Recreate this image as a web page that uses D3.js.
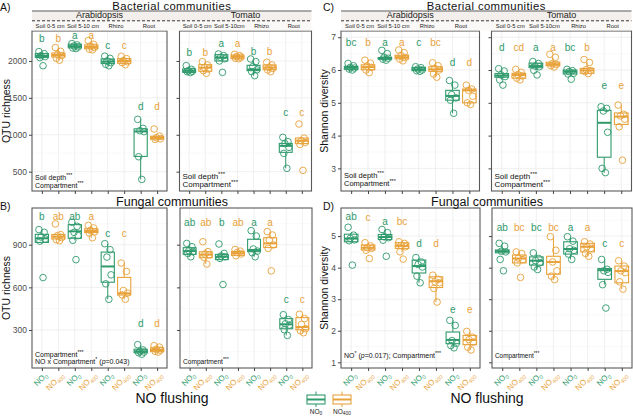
<!DOCTYPE html>
<html><head><meta charset="utf-8">
<script src="https://cdn.jsdelivr.net/npm/d3@7"></script>
<style>
body{margin:0;background:#fff}
svg{display:block}
text{font-family:"Liberation Sans",Arial,sans-serif}
</style>
</head><body>
<svg id="chart" width="633" height="417"></svg>
<script>
// ---------------- DATA ----------------
const compartmentsArab = ["Soil 0-5 cm","Soil 5-10 cm","Rhizo","Root"];
const compartmentsTom  = ["Soil 0-5 cm","Soil 5-10cm","Rhizo","Root"];
const treatments = ["NO0","NO400"];
const treatmentSub = ["0","400"];
const otuBacTicks = [500,1000,1500,2000];
const shanBacTicks = [3,4,5,6,7];
const otuFunTicks = [300,600,900];
const shanFunTicks = [1,2,3,4,5];

// Bacterial OTU richness - Arabidopsis (groups: S0-5 NO0, S0-5 NO400, S5-10 NO0, S5-10 NO400, Rhizo NO0, Rhizo NO400, Root NO0, Root NO400)
const bacOtuArabPts = [
 [2127,2099,2072,2060,2045,1935],
 [2181,2130,2090,2072,2036,2010],
 [2235,2218,2203,2190,2175,2168],
 [2276,2226,2203,2185,2160,2150],
 [2065,2036,2000,1977,1955,1935],
 [2063,2032,2005,1990,1977,1950],
 [1209,1087,1055,1042,702,395],
 [1078,983,960,945,937]
];
const bacOtuArabBox = [
 [2045,2048,2068,2100,2127],[2010,2054,2081,2108,2181],[2168,2178,2199,2228,2235],[2150,2165,2190,2218,2276],
 [1935,1964,1991,2027,2065],[1950,1968,2000,2032,2063],[395,707,1045,1080,1209],[937,940,958,980,983]
];
const bacOtuArabLetters = ["b","b","a","a","c","c","d","d"];
const bacOtuArabLetterAt = [2306,2306,2350,2350,2207,2207,1385,1385];

// Bacterial OTU richness - Tomato
const bacOtuTomPts = [
 [1937,1887,1869,1860,1855,1842],
 [1991,1946,1910,1890,1869,1833],
 [2095,2072,2050,2030,2000,1846],
 [2090,2072,2060,2050,2036,2030],
 [2027,1991,1923,1880,1855,1801],
 [1982,1946,1914,1900,1878,1855],
 [965,906,880,829,748,545],
 [1146,955,922,895,868,517]
];
const bacOtuTomBox = [
 [1842,1845,1866,1893,1937],[1833,1860,1908,1950,1991],[1995,2000,2045,2085,2095],[2023,2030,2058,2080,2090],
 [1801,1869,1885,1941,2027],[1855,1882,1910,1946,1982],[545,762,850,883,965],[868,880,920,955,960]
];
const bacOtuTomLetters = ["b","b","a","a","b","b","c","c"];
const bacOtuTomLetterAt = [2118,2118,2239,2239,2126,2126,1301,1301];

// Bacterial Shannon - Arabidopsis
const bacShanArabPts = [
 [6.20,6.13,6.08,6.06,6.03,6.00],
 [6.30,6.21,6.12,6.08,6.00,5.92],
 [6.60,6.50,6.39,6.36,6.33,6.30],
 [6.61,6.53,6.44,6.38,6.33,6.28],
 [6.10,6.07,6.03,6.00,5.98,5.96],
 [6.22,6.13,6.05,6.00,5.88,5.78],
 [5.68,5.54,5.25,5.15,5.08,4.68],
 [5.54,5.42,5.38,5.20,5.00,4.95]
];
const bacShanArabBox = [
 [6.00,6.02,6.07,6.11,6.20],[5.92,6.01,6.09,6.16,6.30],[6.30,6.33,6.35,6.38,6.45],[6.28,6.34,6.39,6.45,6.61],
 [5.96,5.98,6.02,6.08,6.10],[5.78,5.96,6.02,6.10,6.22],[4.68,5.08,5.21,5.38,5.68],[4.95,5.00,5.38,5.42,5.54]
];
const bacShanArabLetters = ["bc","b","a","a","c","bc","d","d"];
const bacShanArabLetterAt = [6.84,6.84,6.84,6.84,6.84,6.84,6.22,6.22];

// Bacterial Shannon - Tomato
const bacShanTomPts = [
 [6.04,5.97,5.85,5.80,5.70,5.54],
 [6.02,5.93,5.86,5.82,5.75,5.70],
 [6.26,6.20,6.12,6.10,5.99,5.85],
 [6.48,6.39,6.19,6.17,6.13,6.09],
 [6.02,5.98,5.95,5.90,5.88,5.72],
 [6.32,6.23,6.01,5.98,5.95,5.89],
 [4.88,4.83,4.75,4.10,3.00,2.87],
 [4.93,4.65,4.60,4.50,4.27,3.25]
];
const bacShanTomBox = [
 [5.70,5.78,5.83,5.89,6.04],[5.70,5.75,5.85,5.90,6.02],[5.99,6.07,6.12,6.21,6.26],[6.09,6.13,6.18,6.24,6.39],
 [5.88,5.88,5.95,6.00,6.02],[5.89,5.90,5.99,6.05,6.23],[2.87,3.34,4.39,4.77,4.88],[4.27,4.34,4.58,4.69,4.93]
];
const bacShanTomLetters = ["d","cd","a","a","bc","b","e","e"];
const bacShanTomLetterAt = [6.70,6.70,6.70,6.70,6.70,6.70,5.52,5.52];

// Fungal OTU richness - Arabidopsis
const funOtuArabPts = [
 [1006,987,954,940,925,669],
 [1046,971,964,950,935,928],
 [1058,1029,987,964,931,795],
 [1036,1018,1001,990,982,949],
 [907,865,813,688,625,516],
 [771,712,578,560,547,516],
 [197,160,150,145,140,130],
 [190,180,165,158,150,145]
];
const funOtuArabBox = [
 [910,916,945,973,1006],[928,940,957,972,975],[931,945,994,1041,1058],[949,985,996,1012,1036],
 [516,636,747,848,907],[516,546,558,670,771],[130,140,150,165,197],[145,148,160,175,190]
];
const funOtuArabLetters = ["b","ab","ab","a","c","c","d","d"];
const funOtuArabLetterAt = [1097,1097,1097,1097,977,977,344,344];

// Fungal OTU richness - Tomato
const funOtuTomPts = [
 [909,886,858,850,839,815],
 [921,851,835,828,811,764],
 [905,839,820,815,804,620],
 [867,855,845,835,822],
 [999,961,870,855,844,815],
 [992,968,933,898,874,716],
 [408,373,344,335,302,262],
 [411,380,340,309,295,281]
];
const funOtuTomBox = [
 [815,832,855,879,909],[764,808,830,850,870],[790,795,815,832,850],[822,825,840,852,867],
 [815,851,862,938,999],[874,881,909,949,992],[262,309,340,380,408],[281,302,321,387,411]
];
const funOtuTomLetters = ["ab","ab","b","ab","a","a","c","c"];
const funOtuTomLetterAt = [1053,1053,1053,1053,1053,1053,516,516];

// Fungal Shannon - Arabidopsis
const funShanArabPts = [
 [5.28,5.03,4.93,4.88,4.85,4.08],
 [4.79,4.69,4.63,4.61,4.55,4.29],
 [5.21,5.11,4.98,4.95,4.87,4.36],
 [4.82,4.77,4.70,4.66,4.50,4.27],
 [4.32,4.18,4.10,4.02,3.73,3.52],
 [3.76,3.63,3.55,3.52,3.34,2.91],
 [2.33,2.17,1.69,1.60,1.53,1.46],
 [1.98,1.80,1.72,1.64,1.48,1.39]
];
const funShanArabBox = [
 [4.79,4.82,4.92,5.06,5.10],[4.55,4.56,4.63,4.72,4.79],[4.87,4.89,4.97,5.05,5.21],[4.50,4.61,4.69,4.79,4.82],
 [3.52,3.83,4.05,4.24,4.32],[2.91,3.37,3.57,3.71,3.79],[1.46,1.59,1.71,1.96,2.33],[1.39,1.56,1.71,1.85,1.98]
];
const funShanArabLetters = ["ab","c","a","bc","d","d","e","e"];
const funShanArabLetterAt = [5.63,5.60,5.47,5.47,4.77,4.77,2.67,2.67];

// Fungal Shannon - Tomato
const funShanTomPts = [
 [4.77,4.68,4.52,4.50,4.26,3.90],
 [4.50,4.45,4.30,4.25,4.15,3.69],
 [4.47,4.29,4.22,4.15,4.02,3.94],
 [4.98,4.55,4.18,3.90,3.73,3.62],
 [4.98,4.84,4.60,4.55,4.43,4.26],
 [4.82,4.75,4.66,4.61,4.45,4.36],
 [4.26,3.95,3.90,3.85,3.46,2.72],
 [4.22,4.05,3.90,3.84,3.55,3.32]
];
const funShanTomBox = [
 [4.45,4.47,4.52,4.56,4.70],[4.13,4.15,4.29,4.40,4.50],[3.94,4.08,4.22,4.34,4.47],[3.62,3.79,4.18,4.36,4.98],
 [4.26,4.43,4.59,4.82,4.98],[4.36,4.50,4.66,4.77,4.82],[3.46,3.63,3.92,3.97,4.26],[3.32,3.52,3.89,4.05,4.22]
];
const funShanTomLetters = ["ab","bc","bc","bc","a","a","c","c"];
const funShanTomLetterAt = [5.28,5.28,5.28,5.28,5.28,5.28,4.75,4.75];

// ---------------- DRAWING ----------------
const GREEN = "#2f9a6c", ORANGE = "#e8a23a";
const colorOf = i => (i % 2 === 0 ? GREEN : ORANGE);
const jitter = [-0.18, 0.14, -0.05, 0.2, -0.12, 0.07, 0.0];
const svg = d3.select("#chart");
const FONT = '"Liberation Sans",Arial,sans-serif';

function richText(sel, parts, size) {
  let shift = 0;
  parts.forEach(p => {
    const t = sel.append("tspan").text(p.t);
    if (p.sup) { t.attr("dy", -2.6 - shift).attr("font-size", size * 0.75); shift = -2.6; }
    else { if (shift !== 0) { t.attr("dy", -shift); shift = 0; } }
    if (p.it) t.attr("font-style", "italic");
  });
}

function panel(c) {
  const x = d3.scalePoint().domain(d3.range(8)).range([c.x0, c.x1]).padding(0.6);
  const y = d3.scaleLinear().domain(c.dom).range([c.y1, c.y0]);
  const step = x.step();
  const g = svg.append("g");
  // minor + major grid
  const minor = [];
  for (let i = 0; i < c.ticks.length - 1; i++) minor.push((c.ticks[i] + c.ticks[i+1]) / 2);
  minor.push(c.ticks[0] - (c.ticks[1]-c.ticks[0])/2);
  minor.push(c.ticks[c.ticks.length-1] + (c.ticks[1]-c.ticks[0])/2);
  g.selectAll(".mn").data(minor.filter(v => v > c.dom[0] && v < c.dom[1])).join("line")
    .attr("x1", c.x0).attr("x2", c.x1).attr("y1", d => y(d)).attr("y2", d => y(d))
    .attr("stroke", "#f3f3f3").attr("stroke-width", 0.5);
  g.selectAll(".mj").data(c.ticks).join("line")
    .attr("x1", c.x0).attr("x2", c.x1).attr("y1", d => y(d)).attr("y2", d => y(d))
    .attr("stroke", "#e9e9e9").attr("stroke-width", 0.7);
  g.selectAll(".vx").data(d3.range(8)).join("line")
    .attr("x1", d => x(d)).attr("x2", d => x(d)).attr("y1", c.y0).attr("y2", c.y1)
    .attr("stroke", "#e9e9e9").attr("stroke-width", 0.7);

  // boxes
  const hw = step * 0.4;
  c.box.forEach((b, i) => {
    const cx = x(i), col = colorOf(i);
    const bg = g.append("g").attr("stroke", col).attr("fill", "none");
    bg.append("line").attr("x1", cx).attr("x2", cx).attr("y1", y(b[3])).attr("y2", y(b[4])).attr("stroke-width", 1);
    bg.append("line").attr("x1", cx).attr("x2", cx).attr("y1", y(b[1])).attr("y2", y(b[0])).attr("stroke-width", 1);
    bg.append("rect").attr("x", cx - hw).attr("width", hw * 2)
      .attr("y", y(b[3])).attr("height", Math.max(0.5, y(b[1]) - y(b[3])))
      .attr("fill", "#fff").attr("stroke-width", 1.1);
    bg.append("line").attr("x1", cx - hw).attr("x2", cx + hw).attr("y1", y(b[2])).attr("y2", y(b[2])).attr("stroke-width", 2);
  });
  // points
  c.pts.forEach((arr, i) => {
    arr.forEach((v, j) => {
      g.append("circle").attr("cx", x(i) + jitter[j % jitter.length] * step).attr("cy", y(v))
        .attr("r", 3.3).attr("fill", "none").attr("stroke", colorOf(i)).attr("stroke-width", 0.9);
    });
  });
  // letters
  c.letters.forEach((l, i) => {
    g.append("text").attr("x", x(i)).attr("y", y(c.letAt[i])).attr("dy", "0.35em")
      .attr("text-anchor", "middle").attr("font-size", 10).attr("fill", colorOf(i)).text(l);
  });
  // border
  g.append("rect").attr("x", c.x0).attr("y", c.y0).attr("width", c.x1 - c.x0).attr("height", c.y1 - c.y0)
    .attr("fill", "none").attr("stroke", "#5a5a5a").attr("stroke-width", 1.1);
  // y axis
  const ya = d3.axisLeft(y).tickValues(c.ticks).tickSize(3).tickPadding(2).tickFormat(d => c.yLabels ? String(d) : "");
  const yg = g.append("g").attr("transform", `translate(${c.x0},0)`).call(ya);
  yg.select(".domain").remove();
  yg.selectAll("line").attr("stroke", "#444");
  yg.selectAll("text").attr("font-family", FONT).attr("font-size", 8.5).attr("fill", "#4d4d4d");
  // x axis
  const xa = d3.axisBottom(x).tickSize(3).tickFormat("");
  const xg = g.append("g").attr("transform", `translate(0,${c.y1})`).call(xa);
  xg.select(".domain").remove();
  xg.selectAll("line").attr("stroke", "#444");
  if (c.xLabels) {
    d3.range(8).forEach(i => {
      const t = g.append("text").attr("transform", `translate(${x(i) + 2},${c.y1 + 4}) rotate(-45)`)
        .attr("text-anchor", "end").attr("dy", "0.7em").attr("font-size", 8).attr("fill", colorOf(i));
      t.append("tspan").text("NO");
      t.append("tspan").attr("dy", 2).attr("font-size", 5.5).text(treatmentSub[i % 2]);
    });
  }
  // notes
  c.notes.forEach((parts, k) => {
    const t = g.append("text").attr("x", c.x0 + 3).attr("y", c.noteY[k]).attr("font-size", c.noteSize).attr("fill", "#111");
    richText(t, parts, c.noteSize);
  });
  return x;
}

const noteSD = [[{t:"Soil depth"},{t:"***",sup:true}],[{t:"Compartment"},{t:"***",sup:true}]];
const noteC = [[{t:"Compartment"},{t:"***",sup:true}]];

const TOP = {y0: 31, y1: 191}, BOT = {y0: 208, y1: 368};
const xA = panel({x0:32, x1:167, ...TOP, dom:[238,2406], ticks:otuBacTicks, pts:bacOtuArabPts, box:bacOtuArabBox,
  letters:bacOtuArabLetters, letAt:bacOtuArabLetterAt, yLabels:true, xLabels:false, notes:noteSD, noteY:[180,187.5], noteSize:7});
const xA2 = panel({x0:179.5, x1:311.5, ...TOP, dom:[238,2406], ticks:otuBacTicks, pts:bacOtuTomPts, box:bacOtuTomBox,
  letters:bacOtuTomLetters, letAt:bacOtuTomLetterAt, yLabels:false, xLabels:false, notes:noteSD, noteY:[178.5,186.5], noteSize:8});
const xC = panel({x0:341, x1:479.5, ...TOP, dom:[2.31,7.19], ticks:shanBacTicks, pts:bacShanArabPts, box:bacShanArabBox,
  letters:bacShanArabLetters, letAt:bacShanArabLetterAt, yLabels:true, xLabels:false, notes:noteSD, noteY:[178,185.5], noteSize:7.5});
const xC2 = panel({x0:491.5, x1:631.5, ...TOP, dom:[2.31,7.19], ticks:shanBacTicks, pts:bacShanTomPts, box:bacShanTomBox,
  letters:bacShanTomLetters, letAt:bacShanTomLetterAt, yLabels:false, xLabels:false, notes:noteSD, noteY:[178.5,186.5], noteSize:8});
panel({x0:32, x1:167, ...BOT, dom:[33,1158], ticks:otuFunTicks, pts:funOtuArabPts, box:funOtuArabBox,
  letters:funOtuArabLetters, letAt:funOtuArabLetterAt, yLabels:true, xLabels:true,
  notes:[[{t:"Compartment"},{t:"***",sup:true}],[{t:"NO x Compartment"},{t:"*",sup:true},{t:" ("},{t:"p",it:true},{t:"=0.043)"}]],
  noteY:[356.5,364], noteSize:7});
panel({x0:180, x1:312, ...BOT, dom:[33,1158], ticks:otuFunTicks, pts:funOtuTomPts, box:funOtuTomBox,
  letters:funOtuTomLetters, letAt:funOtuTomLetterAt, yLabels:false, xLabels:true, notes:noteC, noteY:[363.5], noteSize:6.6});
panel({x0:341, x1:480, ...BOT, dom:[0.82,5.89], ticks:shanFunTicks, pts:funShanArabPts, box:funShanArabBox,
  letters:funShanArabLetters, letAt:funShanArabLetterAt, yLabels:true, xLabels:true,
  notes:[[{t:"NO"},{t:"*",sup:true},{t:" ("},{t:"p",it:true},{t:"=0.017); Compartment"},{t:"***",sup:true}]],
  noteY:[357.5], noteSize:7});
panel({x0:492, x1:632, ...BOT, dom:[0.82,5.89], ticks:shanFunTicks, pts:funShanTomPts, box:funShanTomBox,
  letters:funShanTomLetters, letAt:funShanTomLetterAt, yLabels:false, xLabels:true, notes:noteC, noteY:[357.5], noteSize:6.4});

// strips for top row
function strip(xl, xr, l0, l1, r0, r1, title, subL, subR) {
  const s = svg.append("g");
  s.append("rect").attr("x", l0).attr("y", 11).attr("width", r1 - l0).attr("height", 10).attr("fill", "#f3efec");
  s.append("rect").attr("x", l0).attr("y", 21).attr("width", r1 - l0).attr("height", 9.5).attr("fill", "#fbf9f8");
  s.append("line").attr("x1", l0).attr("x2", r1).attr("y1", 11).attr("y2", 11).attr("stroke", "#8f8f8f").attr("stroke-width", 1.6);
  s.append("line").attr("x1", l0).attr("x2", r1).attr("y1", 20.8).attr("y2", 20.8).attr("stroke", "#222").attr("stroke-width", 0.9).attr("stroke-dasharray", "3,2");
  s.append("text").attr("x", (l0 + r1) / 2).attr("y", 10.2).attr("text-anchor", "middle").attr("font-size", 11.3)
    .attr("letter-spacing", 0.4).attr("fill", "#111").text(title);
  s.append("text").attr("x", (l0 + l1) / 2).attr("y", 18).attr("text-anchor", "middle").attr("font-size", 9).attr("fill", "#1a1a1a").text("Arabidopsis");
  s.append("text").attr("x", (r0 + r1) / 2).attr("y", 18).attr("text-anchor", "middle").attr("font-size", 9).attr("fill", "#1a1a1a").text("Tomato");
  subL.forEach((t, k) => s.append("text").attr("x", (xl(2*k) + xl(2*k+1)) / 2).attr("y", 27.5)
    .attr("text-anchor", "middle").attr("font-size", 5.8).attr("fill", "#1a1a1a").text(t));
  subR.forEach((t, k) => s.append("text").attr("x", (xr(2*k) + xr(2*k+1)) / 2).attr("y", 27.5)
    .attr("text-anchor", "middle").attr("font-size", 5.8).attr("fill", "#1a1a1a").text(t));
}
strip(xA, xA2, 32, 167, 179.5, 311.5, "Bacterial communities", compartmentsArab, compartmentsTom);
strip(xC, xC2, 341, 479.5, 491.5, 631.5, "Bacterial communities", compartmentsArab, compartmentsTom);

// fungal titles
svg.append("text").attr("x", 172).attr("y", 205.5).attr("text-anchor", "middle").attr("font-size", 12.5).attr("fill", "#111").text("Fungal communities");
svg.append("text").attr("x", 487).attr("y", 205.5).attr("text-anchor", "middle").attr("font-size", 12.5).attr("fill", "#111").text("Fungal communities");

// panel letters
[["A)",0,10.5],["C)",323,10.5],["B)",0,210],["D)",323,210]].forEach(([t,x,y]) =>
  svg.append("text").attr("x", x).attr("y", y).attr("font-size", 10.5).attr("fill", "#111").text(t));

// y titles
[["OTU richness",10,111],["OTU richness",10,288],["Shannon diversity",328,111],["Shannon diversity",328,288]].forEach(([t,x,y]) =>
  svg.append("text").attr("transform", `translate(${x},${y}) rotate(-90)`).attr("text-anchor", "middle")
    .attr("font-size", 10.5).attr("fill", "#111").text(t));

// x titles
[172, 487].forEach(cx => svg.append("text").attr("x", cx).attr("y", 403).attr("text-anchor", "middle")
  .attr("font-size", 14).attr("fill", "#111").text("NO flushing"));

// legend
treatments.forEach((tr, i) => {
  const cx = 316 + i * 26, col = colorOf(i);
  const lg = svg.append("g").attr("stroke", col).attr("fill", "none");
  lg.append("line").attr("x1", cx).attr("x2", cx).attr("y1", 391.5).attr("y2", 395);
  lg.append("line").attr("x1", cx).attr("x2", cx).attr("y1", 404).attr("y2", 407);
  lg.append("rect").attr("x", cx - 9).attr("y", 395).attr("width", 18).attr("height", 9).attr("fill", "#fff").attr("stroke-width", 1.1);
  lg.append("line").attr("x1", cx - 9).attr("x2", cx + 9).attr("y1", 399.5).attr("y2", 399.5).attr("stroke-width", 2);
  const t = svg.append("text").attr("x", cx).attr("y", 413.5).attr("text-anchor", "middle").attr("font-size", 6.5).attr("fill", "#222");
  t.append("tspan").text("NO");
  t.append("tspan").attr("dy", 1.5).attr("font-size", 4.8).text(treatmentSub[i]);
});
</script>
</body></html>
